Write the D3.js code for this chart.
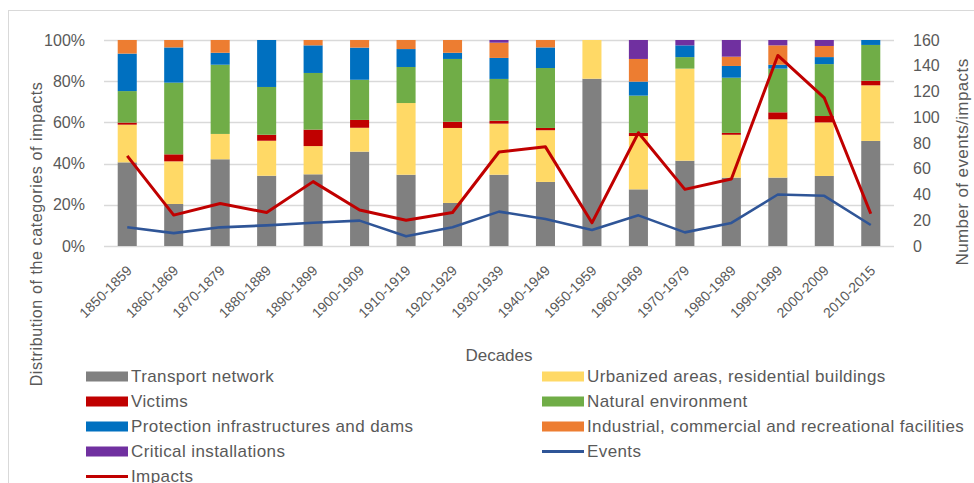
<!DOCTYPE html>
<html>
<head>
<meta charset="utf-8">
<script src="https://cdn.jsdelivr.net/npm/d3@7"></script>
<style>
  body { margin: 0; background: #fff; }
  text { font-family: "Liberation Sans", Arial, sans-serif; fill: #595959; }
</style>
</head>
<body>
<script>
const width = 974, height = 483;

// decades on the x axis
const decades = ['1850-1859', '1860-1869', '1870-1879', '1880-1889', '1890-1899',
  '1900-1909', '1910-1919', '1920-1929', '1930-1939', '1940-1949', '1950-1959',
  '1960-1969', '1970-1979', '1980-1989', '1990-1999', '2000-2009', '2010-2015'];

// share of each impact category (%)
const transport  = [40.6, 20.4, 42.1, 34.1, 34.8, 45.8, 34.6, 20.9, 34.6, 31.1, 81.2, 27.5, 41.4, 33.2, 33.2, 34.0, 51.0];
const urbanized  = [18.3, 20.7, 12.3, 17.0, 13.7, 11.6, 34.8, 36.4, 24.8, 25.1, 18.8, 25.9, 44.7, 20.8, 28.3, 26.0, 27.0];
const victims    = [1.0, 3.4, 0, 2.9, 8.0, 3.8, 0, 3.0, 1.4, 1.1, 0, 1.5, 0, 0.9, 3.4, 3.1, 2.2];
const natural    = [15.3, 34.8, 33.6, 23.2, 27.5, 19.5, 17.5, 30.5, 20.3, 29.1, 0, 18.1, 5.6, 26.8, 21.2, 25.2, 17.4];
const protection = [18.2, 17.1, 5.8, 22.8, 13.4, 15.6, 8.7, 3.0, 10.2, 10.0, 0, 6.8, 5.7, 5.7, 1.9, 3.4, 2.4];
const industrial = [6.6, 3.6, 6.2, 0, 2.6, 3.7, 4.4, 6.2, 7.4, 3.6, 0, 11.0, 0, 4.5, 9.4, 5.4, 0];
const critical   = [0, 0, 0, 0, 0, 0, 0, 0, 1.3, 0, 0, 9.2, 2.6, 8.1, 2.6, 2.9, 0];

// counts on the right axis
const events  = [14.5, 10, 14.5, 16, 18, 19.7, 7.5, 14.5, 26.7, 21, 12.4, 23.8, 10.6, 17.9, 40, 39, 16.3];
const impacts = [70, 24, 33, 26, 50, 28, 20, 26, 73, 77, 18, 88, 44, 52, 148, 115, 25];

const categories = [
  { key: 'transport',  name: 'Transport network', color: '#808080', values: transport },
  { key: 'urbanized',  name: 'Urbanized areas, residential buildings', color: '#FFD966', values: urbanized },
  { key: 'victims',    name: 'Victims', color: '#C00000', values: victims },
  { key: 'natural',    name: 'Natural environment', color: '#70AD47', values: natural },
  { key: 'protection', name: 'Protection infrastructures and dams', color: '#0070C0', values: protection },
  { key: 'industrial', name: 'Industrial, commercial and recreational facilities', color: '#ED7D31', values: industrial },
  { key: 'critical',   name: 'Critical installations', color: '#7030A0', values: critical }
];

const lines = [
  { name: 'Events', color: '#2F5597', values: events },
  { name: 'Impacts', color: '#C00000', values: impacts }
];

const margin = { left: 104, right: 80, top: 40, bottom: 237 };
const plotW = width - margin.left - margin.right;
const plotH = height - margin.top - margin.bottom;

const rows = decades.map((d, i) => {
  const r = { decade: d };
  categories.forEach(c => r[c.key] = c.values[i]);
  return r;
});

const x = d3.scaleBand().domain(decades).range([0, plotW]).paddingInner(0.59).paddingOuter(0.295);
const y = d3.scaleLinear().domain([0, 100]).range([plotH, 0]);
const y2 = d3.scaleLinear().domain([0, 160]).range([plotH, 0]);

const svg = d3.select('body').append('svg')
  .attr('width', width).attr('height', height);

// chart frame
svg.append('rect')
  .attr('x', 8.5).attr('y', 10.5)
  .attr('width', width + 20).attr('height', height + 20)
  .attr('fill', 'none').attr('stroke', '#D9D9D9').attr('stroke-width', 1);

const g = svg.append('g').attr('transform', `translate(${margin.left},${margin.top})`);

// gridlines
g.append('g').selectAll('line')
  .data(y.ticks(5))
  .join('line')
  .attr('x1', 0).attr('x2', plotW)
  .attr('y1', d => Math.round(y(d)) + 0.5).attr('y2', d => Math.round(y(d)) + 0.5)
  .attr('stroke', '#D9D9D9').attr('stroke-width', 1.3);

// stacked bars
const stack = d3.stack().keys(categories.map(c => c.key));
const series = stack(rows);

g.append('g').selectAll('g')
  .data(series)
  .join('g')
  .attr('fill', (d, i) => categories[i].color)
  .selectAll('rect')
  .data(d => d)
  .join('rect')
  .attr('x', d => x(d.data.decade))
  .attr('width', x.bandwidth())
  .attr('y', d => y(d[1]))
  .attr('height', d => y(d[0]) - y(d[1]));

// lines on the secondary axis
const lineGen = d3.line()
  .x((d, i) => x(decades[i]) + x.bandwidth() / 2)
  .y(d => y2(d));

g.append('g').selectAll('path')
  .data(lines)
  .join('path')
  .attr('d', d => lineGen(d.values))
  .attr('fill', 'none')
  .attr('stroke', d => d.color)
  .attr('stroke-width', d => d.name === 'Impacts' ? 3 : 2.6)
  .attr('stroke-linejoin', 'round');

// left axis labels
g.append('g').selectAll('text')
  .data(y.ticks(5))
  .join('text')
  .attr('x', -19).attr('y', d => y(d))
  .attr('dy', '0.35em')
  .attr('text-anchor', 'end')
  .style('font-size', '16px')
  .text(d => d + '%');

// right axis labels
g.append('g').selectAll('text')
  .data(d3.range(0, 161, 20))
  .join('text')
  .attr('x', plotW + 19).attr('y', d => y2(d))
  .attr('dy', '0.35em')
  .style('font-size', '16px')
  .text(d => d);

// x tick labels
g.append('g').selectAll('text')
  .data(decades)
  .join('text')
  .attr('transform', d => `translate(${x(d) + x.bandwidth() / 2 + 2},${plotH + 22}) rotate(-45)`)
  .attr('text-anchor', 'end')
  .attr('dy', '0.35em')
  .style('font-size', '14px')
  .text(d => d);

// axis titles
svg.append('text')
  .attr('x', margin.left + plotW / 2).attr('y', 361)
  .attr('text-anchor', 'middle')
  .style('font-size', '17px')
  .text('Decades');

svg.append('text')
  .attr('transform', 'translate(42,234) rotate(-90)')
  .attr('text-anchor', 'middle')
  .style('font-size', '16px')
  .style('letter-spacing', '0.6px')
  .text('Distribution of the categories of impacts');

svg.append('text')
  .attr('transform', 'translate(968,162) rotate(-90)')
  .attr('text-anchor', 'middle')
  .style('font-size', '17px')
  .style('letter-spacing', '0.4px')
  .text('Number of events/impacts');

// legend
const legendItems = [
  ...categories.map(c => ({ name: c.name, color: c.color, type: 'rect' })),
];
legendItems.splice(7, 0, { name: lines[0].name, color: lines[0].color, type: 'line' });
legendItems.push({ name: lines[1].name, color: lines[1].color, type: 'line' });

const legend = svg.append('g').selectAll('g')
  .data(legendItems)
  .join('g')
  .attr('transform', (d, i) => `translate(${i % 2 === 0 ? 86 : 542},${376.5 + Math.floor(i / 2) * 25})`);

legend.filter(d => d.type === 'rect').append('rect')
  .attr('x', 0).attr('y', -5).attr('width', 42).attr('height', 10)
  .attr('fill', d => d.color);

legend.filter(d => d.type === 'line').append('line')
  .attr('x1', 0).attr('x2', 42).attr('y1', 0).attr('y2', 0)
  .attr('stroke', d => d.color).attr('stroke-width', 3);

legend.append('text')
  .attr('x', 45).attr('y', 0).attr('dy', '0.35em')
  .style('font-size', '17px')
  .style('letter-spacing', '0.4px')
  .text(d => d.name);
</script>
</body>
</html>
